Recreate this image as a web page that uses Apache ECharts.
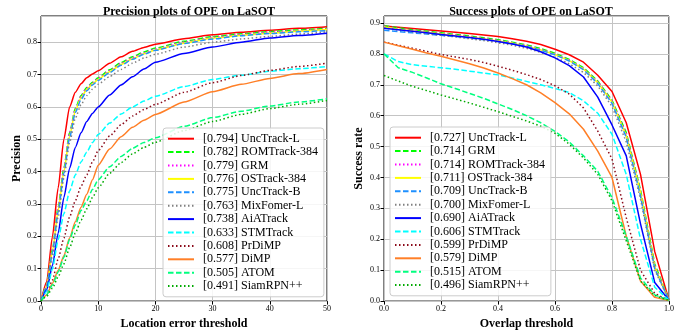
<!DOCTYPE html>
<html>
<head>
<meta charset="utf-8">
<script src="https://cdn.jsdelivr.net/npm/echarts@6/dist/echarts.min.js"></script>
<style>
  html, body { margin: 0; padding: 0; background: #fff; }
  #chart { width: 692px; height: 335px; }
</style>
</head>
<body>
<div id="chart"></div>
<script>
// ---- precision plot (location error threshold 0..50) ----
const precX = [0, 1, 2, 3, 4, 5, 6, 7, 8, 9, 10, 12, 14, 16, 18, 20, 25, 30, 35, 40, 45, 50];
const precNames = ['UncTrack-L', 'ROMTrack-384', 'GRM', 'OSTrack-384', 'UncTrack-B', 'MixFomer-L',
  'AiATrack', 'STMTrack', 'PrDiMP', 'DiMP', 'ATOM', 'SiamRPN++'];
const precScores = [0.794, 0.782, 0.779, 0.776, 0.775, 0.763, 0.738, 0.633, 0.608, 0.577, 0.505, 0.491];

const pUncTrackL = [0, 0.06, 0.2, 0.35, 0.5, 0.6, 0.645, 0.672, 0.69, 0.702, 0.712, 0.735, 0.755, 0.772, 0.784, 0.794, 0.811, 0.823, 0.831, 0.837, 0.843, 0.848];
const pROMTrack = [0, 0.05, 0.16, 0.29, 0.41, 0.52, 0.595, 0.635, 0.66, 0.676, 0.69, 0.715, 0.737, 0.755, 0.77, 0.782, 0.803, 0.817, 0.826, 0.833, 0.838, 0.843];
const pGRM = [0, 0.05, 0.16, 0.29, 0.41, 0.52, 0.593, 0.633, 0.658, 0.674, 0.688, 0.712, 0.734, 0.752, 0.767, 0.779, 0.8, 0.815, 0.824, 0.831, 0.836, 0.841];
const pOSTrack = [0, 0.045, 0.155, 0.28, 0.4, 0.51, 0.588, 0.628, 0.654, 0.671, 0.685, 0.709, 0.731, 0.749, 0.764, 0.776, 0.797, 0.812, 0.821, 0.828, 0.834, 0.839];
const pUncTrackB = [0, 0.045, 0.15, 0.275, 0.395, 0.505, 0.583, 0.623, 0.65, 0.668, 0.682, 0.706, 0.729, 0.747, 0.763, 0.775, 0.796, 0.81, 0.82, 0.827, 0.832, 0.836];
const pMixFormer = [0, 0.04, 0.14, 0.26, 0.38, 0.49, 0.565, 0.607, 0.635, 0.655, 0.67, 0.694, 0.716, 0.735, 0.751, 0.763, 0.785, 0.8, 0.81, 0.818, 0.825, 0.832];
const pAiATrack = [0, 0.035, 0.11, 0.21, 0.32, 0.41, 0.475, 0.52, 0.555, 0.58, 0.6, 0.637, 0.668, 0.693, 0.717, 0.738, 0.765, 0.785, 0.8, 0.813, 0.821, 0.828];
const pSTMTrack = [0, 0.03, 0.1, 0.19, 0.27, 0.34, 0.39, 0.43, 0.46, 0.49, 0.515, 0.55, 0.578, 0.6, 0.618, 0.633, 0.663, 0.685, 0.698, 0.71, 0.718, 0.725];
const pPrDiMP = [0, 0.02, 0.065, 0.13, 0.195, 0.26, 0.31, 0.355, 0.39, 0.43, 0.465, 0.51, 0.545, 0.572, 0.592, 0.608, 0.645, 0.675, 0.697, 0.713, 0.725, 0.735];
const pDiMP = [0, 0.02, 0.055, 0.095, 0.14, 0.195, 0.245, 0.29, 0.33, 0.375, 0.42, 0.47, 0.508, 0.537, 0.559, 0.577, 0.615, 0.647, 0.67, 0.688, 0.703, 0.716];
const pATOM = [0, 0.02, 0.05, 0.09, 0.135, 0.19, 0.235, 0.28, 0.31, 0.345, 0.375, 0.415, 0.447, 0.472, 0.49, 0.505, 0.54, 0.567, 0.587, 0.603, 0.615, 0.625];
const pSiamRPN = [0, 0.015, 0.04, 0.075, 0.115, 0.165, 0.21, 0.25, 0.285, 0.32, 0.35, 0.395, 0.428, 0.455, 0.475, 0.491, 0.527, 0.555, 0.577, 0.595, 0.608, 0.62];

// ---- success plot (overlap threshold 0..1) ----
const succX = [0, 0.05, 0.1, 0.15, 0.2, 0.25, 0.3, 0.35, 0.4, 0.45, 0.5, 0.55, 0.6, 0.65, 0.7, 0.75, 0.8, 0.85, 0.9, 0.95, 1.0];
const succNames = ['UncTrack-L', 'GRM', 'ROMTrack-384', 'OSTrack-384', 'UncTrack-B', 'MixFomer-L',
  'AiATrack', 'STMTrack', 'PrDiMP', 'DiMP', 'ATOM', 'SiamRPN++'];
const succScores = [0.727, 0.714, 0.714, 0.711, 0.709, 0.700, 0.690, 0.606, 0.599, 0.579, 0.515, 0.496];

const sUncTrackL = [0.89, 0.886, 0.882, 0.878, 0.874, 0.87, 0.866, 0.861, 0.856, 0.849, 0.841, 0.83, 0.815, 0.797, 0.773, 0.731, 0.678, 0.577, 0.41, 0.16, 0.003];
const sGRM = [0.891, 0.884, 0.878, 0.873, 0.868, 0.863, 0.858, 0.852, 0.846, 0.838, 0.829, 0.817, 0.802, 0.782, 0.755, 0.712, 0.65, 0.545, 0.36, 0.12, 0.003];
const sROMTrack = [0.889, 0.882, 0.876, 0.871, 0.866, 0.861, 0.856, 0.85, 0.844, 0.836, 0.827, 0.815, 0.8, 0.78, 0.753, 0.71, 0.648, 0.542, 0.355, 0.115, 0.003];
const sOSTrack = [0.887, 0.88, 0.874, 0.869, 0.864, 0.859, 0.854, 0.848, 0.842, 0.834, 0.825, 0.813, 0.798, 0.778, 0.751, 0.707, 0.644, 0.535, 0.35, 0.11, 0.003];
const sUncTrackB = [0.876, 0.872, 0.868, 0.864, 0.86, 0.856, 0.851, 0.846, 0.84, 0.833, 0.824, 0.812, 0.797, 0.777, 0.749, 0.704, 0.64, 0.53, 0.34, 0.105, 0.003];
const sMixFormer = [0.884, 0.877, 0.871, 0.865, 0.86, 0.855, 0.849, 0.843, 0.836, 0.828, 0.818, 0.805, 0.789, 0.768, 0.74, 0.696, 0.63, 0.515, 0.33, 0.1, 0.003];
const sAiATrack = [0.883, 0.878, 0.873, 0.868, 0.863, 0.858, 0.853, 0.847, 0.84, 0.832, 0.822, 0.807, 0.787, 0.762, 0.725, 0.66, 0.57, 0.47, 0.25, 0.06, 0.003];
const sSTMTrack = [0.8, 0.775, 0.765, 0.76, 0.755, 0.75, 0.744, 0.738, 0.732, 0.722, 0.711, 0.7, 0.688, 0.675, 0.648, 0.608, 0.54, 0.41, 0.2, 0.045, 0.003];
const sPrDiMP = [0.838, 0.828, 0.818, 0.808, 0.798, 0.79, 0.782, 0.772, 0.76, 0.747, 0.733, 0.717, 0.697, 0.67, 0.625, 0.55, 0.46, 0.27, 0.1, 0.025, 0.002];
const sDiMP = [0.838, 0.826, 0.815, 0.803, 0.792, 0.78, 0.768, 0.754, 0.738, 0.72, 0.7, 0.674, 0.642, 0.606, 0.556, 0.485, 0.4, 0.21, 0.065, 0.012, 0.002];
const sATOM = [0.8, 0.755, 0.74, 0.722, 0.703, 0.688, 0.672, 0.656, 0.638, 0.62, 0.6, 0.577, 0.549, 0.515, 0.47, 0.42, 0.335, 0.21, 0.075, 0.02, 0.002];
const sSiamRPN = [0.73, 0.712, 0.695, 0.681, 0.667, 0.654, 0.641, 0.627, 0.613, 0.598, 0.583, 0.566, 0.543, 0.508, 0.463, 0.41, 0.325, 0.195, 0.065, 0.018, 0.002];

const precCurves = [pUncTrackL, pROMTrack, pGRM, pOSTrack, pUncTrackB, pMixFormer, pAiATrack, pSTMTrack, pPrDiMP, pDiMP, pATOM, pSiamRPN];
const succCurves = [sUncTrackL, sGRM, sROMTrack, sOSTrack, sUncTrackB, sMixFormer, sAiATrack, sSTMTrack, sPrDiMP, sDiMP, sATOM, sSiamRPN];

// style by rank (same in both plots)
const DASH = [5.5, 2.5], DOT = [1.5, 2.5];
const styles = [
  { color: '#ff0000', type: 'solid' },
  { color: '#00ff00', type: DASH },
  { color: '#ff00ff', type: DOT },
  { color: '#ffff00', type: 'solid' },
  { color: '#1e90ff', type: DASH },
  { color: '#808080', type: DOT },
  { color: '#0000ff', type: 'solid' },
  { color: '#00ffff', type: DASH },
  { color: '#8b0a1a', type: DOT },
  { color: '#ff7f27', type: 'solid' },
  { color: '#00ff7f', type: DASH },
  { color: '#00aa00', type: DOT },
];

const FONT = '"Liberation Serif", "DejaVu Serif", serif';
const label = (names, scores) => names.map((n, i) => '[' + scores[i].toFixed(3) + '] ' + n);
const precLabels = label(precNames, precScores);
const succLabels = label(succNames, succScores);

const chart = echarts.init(document.getElementById('chart'));

const axisCommon = {
  axisLine: { show: false },
  axisTick: { show: true, inside: false, length: 3.5, lineStyle: { color: '#000', width: 1 } },
  axisLabel: { fontFamily: FONT, fontSize: 8, color: '#000', margin: 4 },
  splitLine: { show: true, lineStyle: { color: '#c4c4c4', width: 1 } },
  nameTextStyle: { fontFamily: FONT, fontSize: 12, fontWeight: 'bold', color: '#000' },
  nameLocation: 'middle',
};

const legendCommon = {
  orient: 'vertical',
  selectedMode: false,
  itemWidth: 26,
  itemHeight: 10,
  itemGap: 0,
  padding: [4, 6, 4, 4],
  backgroundColor: 'rgba(255,255,255,0.85)',
  borderColor: '#cccccc',
  borderWidth: 1,
  borderRadius: 3,
  itemStyle: { opacity: 0 },
  textStyle: { fontFamily: FONT, fontSize: 12, color: '#000', lineHeight: 13.4, padding: [0, 0, 0, 4] },
};

function makeSeries(labels, curves, xs, idx) {
  return labels.map((name, i) => ({
    name: name,
    type: 'line',
    xAxisIndex: idx,
    yAxisIndex: idx,
    data: xs.map((x, k) => [x, curves[i][k]]),
    showSymbol: false,
    symbol: 'none',
    smooth: idx === 0 ? 0.2 : false,
    smoothMonotone: 'x',
    lineStyle: { color: styles[i].color, width: 1.5, type: styles[i].type },
    itemStyle: { color: styles[i].color },
    animation: false,
  }));
}

const tenths = v => (Math.abs(v * 10 - Math.round(v * 10)) < 1e-6 ? v.toFixed(1) : '');

const option = {
  backgroundColor: '#fff',
  title: [
    { text: 'Precision plots of OPE on LaSOT', left: 184, top: 1, textAlign: 'center',
      textStyle: { fontFamily: FONT, fontSize: 12, fontWeight: 'bold', color: '#000' } },
    { text: 'Success plots of OPE on LaSOT', left: 526, top: 1, textAlign: 'center',
      textStyle: { fontFamily: FONT, fontSize: 12, fontWeight: 'bold', color: '#000' } },
  ],
  grid: [
    { left: 41, right: 365, top: 16, bottom: 33, show: true, borderColor: '#000', borderWidth: 1, backgroundColor: 'transparent' },
    { left: 384, right: 23, top: 16, bottom: 33, show: true, borderColor: '#000', borderWidth: 1, backgroundColor: 'transparent' },
  ],
  xAxis: [
    Object.assign({}, axisCommon, { type: 'value', gridIndex: 0, min: 0, max: 50, interval: 10,
      name: 'Location error threshold', nameGap: 13 }),
    Object.assign({}, axisCommon, { type: 'value', gridIndex: 1, min: 0, max: 1, interval: 0.2,
      name: 'Overlap threshold', nameGap: 13,
      axisLabel: Object.assign({}, axisCommon.axisLabel, { formatter: v => v.toFixed(1) }) }),
  ],
  yAxis: [
    Object.assign({}, axisCommon, { type: 'value', gridIndex: 0, min: 0, max: 0.881, interval: 0.1,
      name: 'Precision', nameGap: 17,
      axisLabel: Object.assign({}, axisCommon.axisLabel, { formatter: tenths, showMaxLabel: false }) }),
    Object.assign({}, axisCommon, { type: 'value', gridIndex: 1, min: 0, max: 0.9225, interval: 0.1,
      name: 'Success rate', nameGap: 19,
      axisLabel: Object.assign({}, axisCommon.axisLabel, { formatter: tenths, showMaxLabel: false }) }),
  ],
  legend: [
    Object.assign({}, legendCommon, { left: 163, top: 128, data: precLabels }),
    Object.assign({}, legendCommon, { left: 390, top: 127, data: succLabels }),
  ],
  series: makeSeries(precLabels, precCurves, precX, 0).concat(makeSeries(succLabels, succCurves, succX, 1)),
};

chart.setOption(option);
</script>
</body>
</html>
